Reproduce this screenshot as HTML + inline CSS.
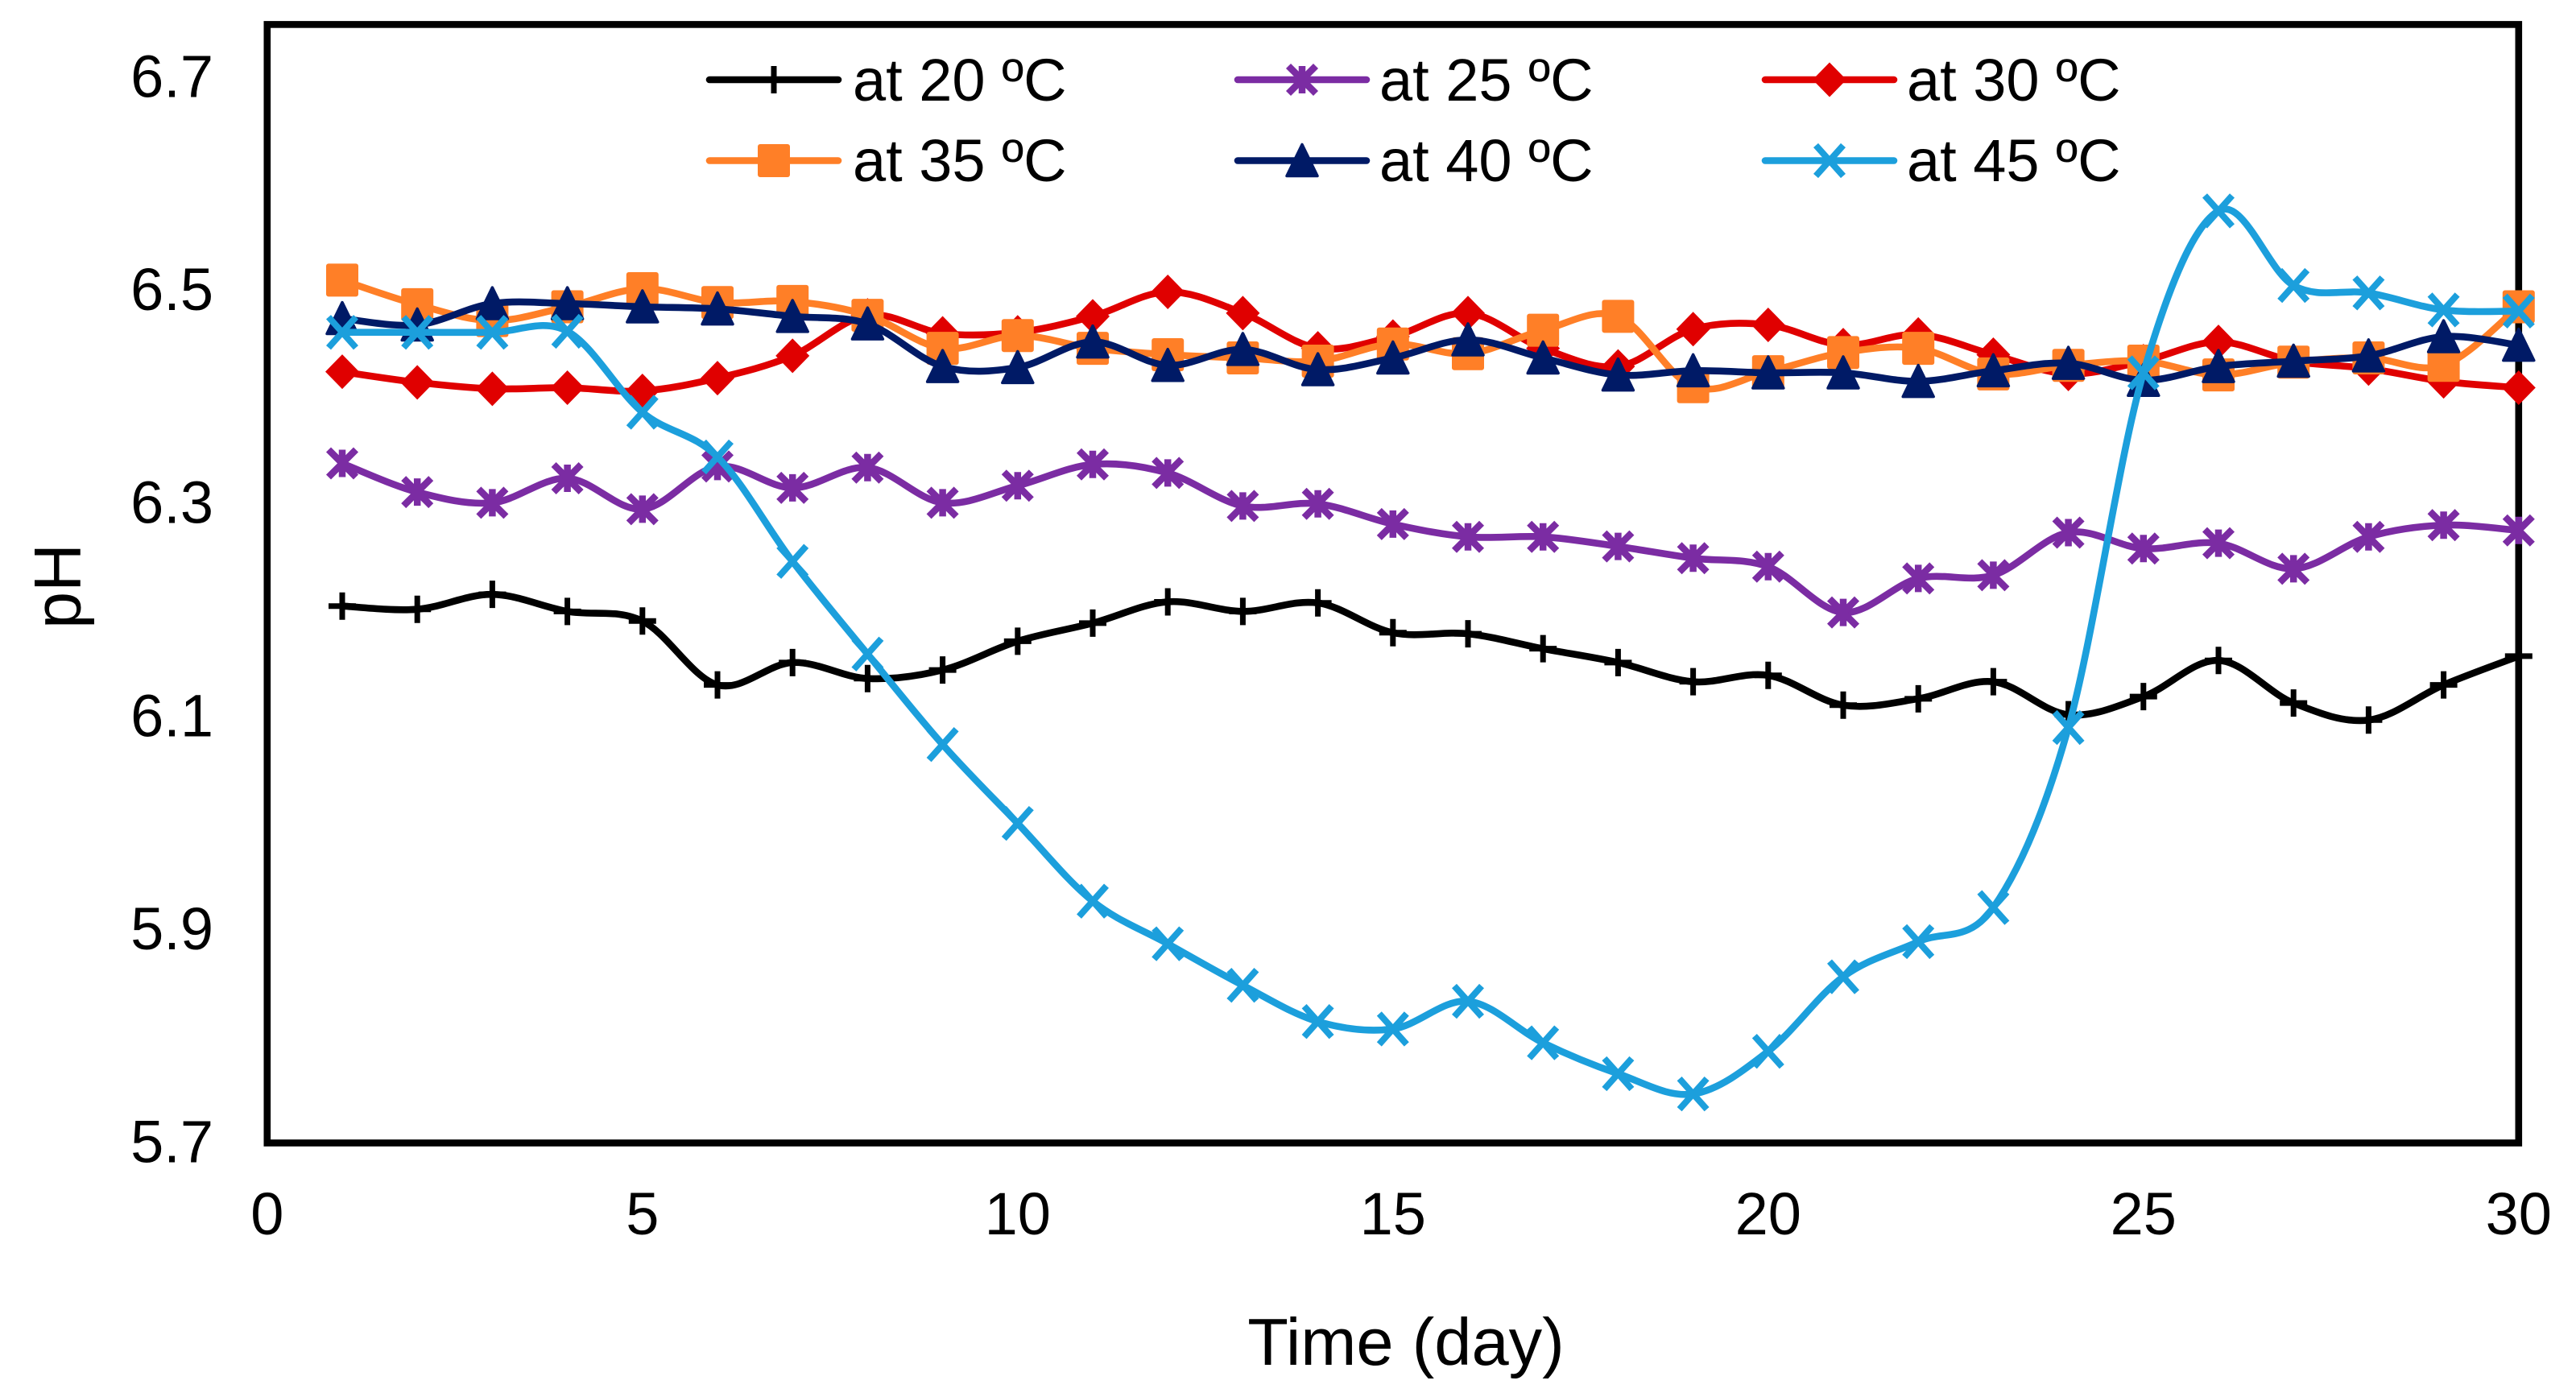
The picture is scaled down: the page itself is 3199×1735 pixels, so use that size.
<!DOCTYPE html>
<html lang="en">
<head>
<meta charset="utf-8">
<title>pH over time at different temperatures</title>
<style>
html,body{margin:0;padding:0;background:#fff;}
svg{display:block;}
text{font-family:"Liberation Sans",Arial,sans-serif;fill:#000;}
</style>
</head>
<body>
<svg id="chart" xmlns="http://www.w3.org/2000/svg" width="3199" height="1735" viewBox="0 0 3199 1735">
  <rect x="0" y="0" width="3199" height="1735" fill="#fff"/>
  <rect id="frame" fill="none" stroke="#000" stroke-width="8.6"/>
  <g id="x-ticks"></g>
  <g id="y-ticks"></g>
  <text x="1746" y="1695" font-size="83" text-anchor="middle">Time (day)</text>
  <text transform="translate(100,728) rotate(-90)" font-size="83" text-anchor="middle">pH</text>
  <g id="series"></g>
  <g id="legend">
    <g id="legend-20">
      <line x1="881" x2="1041" y1="99" y2="99" stroke="#000000" stroke-width="8.6" stroke-linecap="round"/>
      <text x="1059" y="125" font-size="74">at 20 ºC</text>
    </g>
    <g id="legend-25">
      <line x1="1537" x2="1697" y1="99" y2="99" stroke="#7b2ca3" stroke-width="8.6" stroke-linecap="round"/>
      <text x="1713" y="125" font-size="74">at 25 ºC</text>
    </g>
    <g id="legend-30">
      <line x1="2192" x2="2352" y1="99" y2="99" stroke="#e00000" stroke-width="8.6" stroke-linecap="round"/>
      <text x="2368" y="125" font-size="74">at 30 ºC</text>
    </g>
    <g id="legend-35">
      <line x1="881" x2="1041" y1="199.5" y2="199.5" stroke="#ff7f27" stroke-width="8.6" stroke-linecap="round"/>
      <text x="1059" y="225" font-size="74">at 35 ºC</text>
    </g>
    <g id="legend-40">
      <line x1="1537" x2="1697" y1="199.5" y2="199.5" stroke="#001a66" stroke-width="8.6" stroke-linecap="round"/>
      <text x="1713" y="225" font-size="74">at 40 ºC</text>
    </g>
    <g id="legend-45">
      <line x1="2192" x2="2352" y1="199.5" y2="199.5" stroke="#1c9fdc" stroke-width="8.6" stroke-linecap="round"/>
      <text x="2368" y="225" font-size="74">at 45 ºC</text>
    </g>
  </g>
</svg>
<script>
const days = [1,2,3,4,5,6,7,8,9,10,11,12,13,14,15,16,17,18,19,20,21,22,23,24,25,26,27,28,29,30];
const xTickLabels = [0,5,10,15,20,25,30];
const yTickLabels = ["5.7","5.9","6.1","6.3","6.5","6.7"];
const ph20 = [6.204,6.201,6.215,6.199,6.190,6.130,6.151,6.136,6.144,6.171,6.188,6.208,6.199,6.207,6.179,6.178,6.164,6.151,6.133,6.139,6.111,6.117,6.133,6.102,6.119,6.153,6.113,6.097,6.130,6.157];
const ph25 = [6.338,6.311,6.301,6.324,6.295,6.335,6.315,6.334,6.301,6.317,6.337,6.329,6.298,6.300,6.281,6.269,6.269,6.260,6.249,6.241,6.198,6.230,6.233,6.273,6.258,6.263,6.239,6.269,6.280,6.275];
const ph30 = [6.424,6.414,6.408,6.409,6.406,6.418,6.439,6.477,6.460,6.461,6.476,6.499,6.479,6.446,6.457,6.479,6.446,6.429,6.464,6.468,6.449,6.459,6.440,6.422,6.434,6.452,6.434,6.427,6.415,6.409];
const ph35 = [6.510,6.487,6.472,6.485,6.502,6.489,6.490,6.477,6.446,6.458,6.446,6.440,6.437,6.434,6.450,6.441,6.463,6.476,6.410,6.424,6.442,6.446,6.422,6.430,6.434,6.421,6.433,6.437,6.430,6.485];
const ph40 = [6.474,6.468,6.488,6.488,6.485,6.483,6.476,6.469,6.429,6.428,6.452,6.430,6.445,6.426,6.437,6.454,6.437,6.421,6.425,6.423,6.423,6.415,6.425,6.432,6.416,6.429,6.434,6.439,6.457,6.449];
const ph45 = [6.461,6.461,6.461,6.462,6.386,6.344,6.246,6.159,6.074,6.000,5.927,5.887,5.848,5.814,5.807,5.833,5.794,5.765,5.746,5.786,5.856,5.889,5.921,6.090,6.423,6.575,6.505,6.498,6.482,6.481];

const NS = "http://www.w3.org/2000/svg";
const plot = {left:331.8, right:3127.8, top:30.4, bottom:1419.5};
const xDomain = [0,30];
const yDomain = [5.7,6.75];
function xScale(d){ return plot.left + (d-xDomain[0])/(xDomain[1]-xDomain[0])*(plot.right-plot.left); }
function yScale(v){ return plot.bottom - (v-yDomain[0])/(yDomain[1]-yDomain[0])*(plot.bottom-plot.top); }

function make(tag, attrs){
  const el = document.createElementNS(NS, tag);
  for (const k in attrs) el.setAttribute(k, attrs[k]);
  return el;
}

const frame = document.getElementById("frame");
frame.setAttribute("x", plot.left);
frame.setAttribute("y", plot.top);
frame.setAttribute("width", plot.right-plot.left);
frame.setAttribute("height", plot.bottom-plot.top);

const xTicksGroup = document.getElementById("x-ticks");
xTickLabels.forEach(function(t){
  const el = make("text", {x:xScale(t), y:1533, "font-size":74, "text-anchor":"middle"});
  
  
  el.textContent = String(t);
  xTicksGroup.appendChild(el);
});
const yTicksGroup = document.getElementById("y-ticks");
yTickLabels.forEach(function(t){
  const el = make("text", {x:265, y:yScale(parseFloat(t))+24, "font-size":74, "text-anchor":"end"});
  
  
  el.textContent = t;
  yTicksGroup.appendChild(el);
});

function smoothPath(pts){
  let d = "M" + pts[0][0].toFixed(1) + " " + pts[0][1].toFixed(1);
  for (let i=0;i<pts.length-1;i++){
    const p0 = pts[Math.max(i-1,0)], p1 = pts[i], p2 = pts[i+1], p3 = pts[Math.min(i+2,pts.length-1)];
    const c1x = p1[0]+(p2[0]-p0[0])/6, c1y = p1[1]+(p2[1]-p0[1])/6;
    const c2x = p2[0]-(p3[0]-p1[0])/6, c2y = p2[1]-(p3[1]-p1[1])/6;
    d += "C"+c1x.toFixed(1)+" "+c1y.toFixed(1)+" "+c2x.toFixed(1)+" "+c2y.toFixed(1)+" "+p2[0].toFixed(1)+" "+p2[1].toFixed(1);
  }
  return d;
}

function markerShape(kind, cx, cy, color){
  let el;
  if (kind === "plus"){
    el = make("path", {d:"M"+(cx-17)+" "+cy+"H"+(cx+17)+"M"+cx+" "+(cy-17)+"V"+(cy+17), stroke:color, "stroke-width":7, fill:"none"});
  } else if (kind === "star"){
    el = make("path", {d:"M"+(cx-17)+" "+(cy-17)+"L"+(cx+17)+" "+(cy+17)+"M"+(cx-17)+" "+(cy+17)+"L"+(cx+17)+" "+(cy-17)+"M"+cx+" "+(cy-17)+"V"+(cy+17), stroke:color, "stroke-width":8.5, fill:"none"});
  } else if (kind === "diamond"){
    el = make("path", {d:"M"+cx+" "+(cy-21.5)+"L"+(cx+21)+" "+cy+"L"+cx+" "+(cy+21.5)+"L"+(cx-21)+" "+cy+"Z", fill:color});
  } else if (kind === "square"){
    el = make("rect", {x:cx-20, y:cy-20.5, width:40, height:41, rx:3, fill:color});
  } else if (kind === "triangle"){
    el = make("path", {d:"M"+cx+" "+(cy-20)+"L"+(cx+19)+" "+(cy+19)+"L"+(cx-19)+" "+(cy+19)+"Z", fill:color, stroke:color, "stroke-width":3.5, "stroke-linejoin":"round"});
  } else {
    el = make("path", {d:"M"+(cx-17)+" "+(cy-19)+"L"+(cx+17)+" "+(cy+19)+"M"+(cx-17)+" "+(cy+19)+"L"+(cx+17)+" "+(cy-19), stroke:color, "stroke-width":8, fill:"none"});
  }
  return el;
}

const seriesGroup = document.getElementById("series");

function drawSeries(name, values, color, kind, width){
  const g = make("g", {});
  
  
  const pts = values.map(function(v,i){ return [xScale(days[i]), yScale(v)]; });
  const line = make("path", {d:smoothPath(pts), fill:"none", stroke:color, "stroke-width":width, "stroke-linejoin":"round", "stroke-linecap":"round"});
  
  
  g.appendChild(line);
  pts.forEach(function(p){
    const m = markerShape(kind, p[0], p[1], color);
    
    
    g.appendChild(m);
  });
  seriesGroup.appendChild(g);
}

drawSeries("series-20c", ph20, "#000000", "plus", 8.6);
drawSeries("series-25c", ph25, "#7b2ca3", "star", 8.6);
drawSeries("series-30c", ph30, "#e00000", "diamond", 8.6);
drawSeries("series-35c", ph35, "#ff7f27", "square", 8.6);
drawSeries("series-40c", ph40, "#001a66", "triangle", 8.6);
drawSeries("series-45c", ph45, "#1c9fdc", "cross", 8.6);

function legendMarker(id, kind, cx, cy, color){
  const m = markerShape(kind, cx, cy, color);
  
  
  document.getElementById(id).appendChild(m);
}
legendMarker("legend-20", "plus", 961, 99, "#000000");
legendMarker("legend-25", "star", 1617, 99, "#7b2ca3");
legendMarker("legend-30", "diamond", 2272, 99, "#e00000");
legendMarker("legend-35", "square", 961, 199.5, "#ff7f27");
legendMarker("legend-40", "triangle", 1617, 199.5, "#001a66");
legendMarker("legend-45", "cross", 2272, 199.5, "#1c9fdc");
</script>
</body>
</html>
